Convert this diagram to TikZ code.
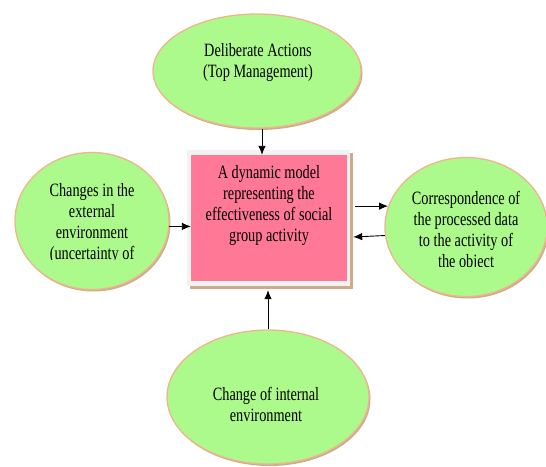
\documentclass[tikz,border=0pt]{standalone}
\usepackage{fontspec}
\setmainfont{Liberation Serif}[FakeStretch=0.76]
\usetikzlibrary{shapes.geometric,calc,arrows.meta,shadows}
\definecolor{elfill}{RGB}{172,250,140}
\definecolor{eldraw}{RGB}{238,182,140}
\definecolor{elshadow}{RGB}{196,150,115}
\definecolor{boxpink}{RGB}{255,121,150}
\definecolor{framegray}{RGB}{242,242,242}
\definecolor{boxshadow}{RGB}{205,170,140}
\begin{document}
\begin{tikzpicture}[x=1pt,y=-1pt,
  oval/.style={ellipse, fill=elfill, draw=eldraw, line width=1.3pt, inner sep=0pt,
    drop shadow={shadow xshift=1.5pt, shadow yshift=-2pt, fill=elshadow, opacity=0.8}},
  frame/.style={fill=framegray, inner sep=0pt,
    drop shadow={shadow xshift=3pt, shadow yshift=-3pt, fill=boxshadow, opacity=1}},
  core/.style={fill=boxpink, inner sep=0pt},
  lbl/.style={font=\fontsize{18.8}{21}\selectfont, align=center, inner sep=0pt, text=black},
  arr/.style={-{Latex[length=9pt,width=7.5pt]}, line width=0.9pt}]
\useasboundingbox[fill=white] (0,0) rectangle (546,466);

% ellipses
\node[oval, minimum width=208pt, minimum height=114pt] (top) at (257,71) {};
\node[oval, minimum width=154pt, minimum height=137pt] (left) at (92,221) {};
\node[oval, minimum width=162pt, minimum height=139pt] (right) at (466,227) {};
\node[oval, minimum width=202pt, minimum height=134pt] (bottom) at (268,397) {};

% central box
\node[frame, minimum width=163pt, minimum height=136pt] (box) at (268.5,218) {};
\node[core, minimum width=156pt, minimum height=126pt] (inner) at (269,218) {};

% texts
\node[lbl] (toptext) at (258,63) {Deliberate Actions\\(Top Management)};
\node[lbl] (boxtext) at (269,206) {A dynamic model\\representing the\\effectiveness of social\\group activity};
\node[lbl] (bottext) at (266,404) {Change of internal\\environment};
\begin{scope}
  \clip (0,0) rectangle (546,259);
  \node[lbl] (lefttext) at (92,224) {Changes in the\\external\\environment\\(uncertainty of};
\end{scope}
\begin{scope}
  \clip (300,0) rectangle (546,266);
  \node[lbl] (righttext) at (466,231) {Correspondence of\\the processed data\\to the activity of\\the object};
\end{scope}

% connectors
\draw[arr] ([xshift=5pt]top.south) -- ([xshift=5pt]top.south |- inner.north);
\draw[arr] (left.-4) -- (left.-4 -| inner.west);
\draw[arr] ($(box.east |- right.165)+(5,0)$) -- (right.165);
\draw[arr] (right.186) -- ($(box.east)+(3,19)$);
\draw[arr] (bottom.north) -- ($(bottom.north |- box.south)+(0,4)$);
\end{tikzpicture}
\end{document}
